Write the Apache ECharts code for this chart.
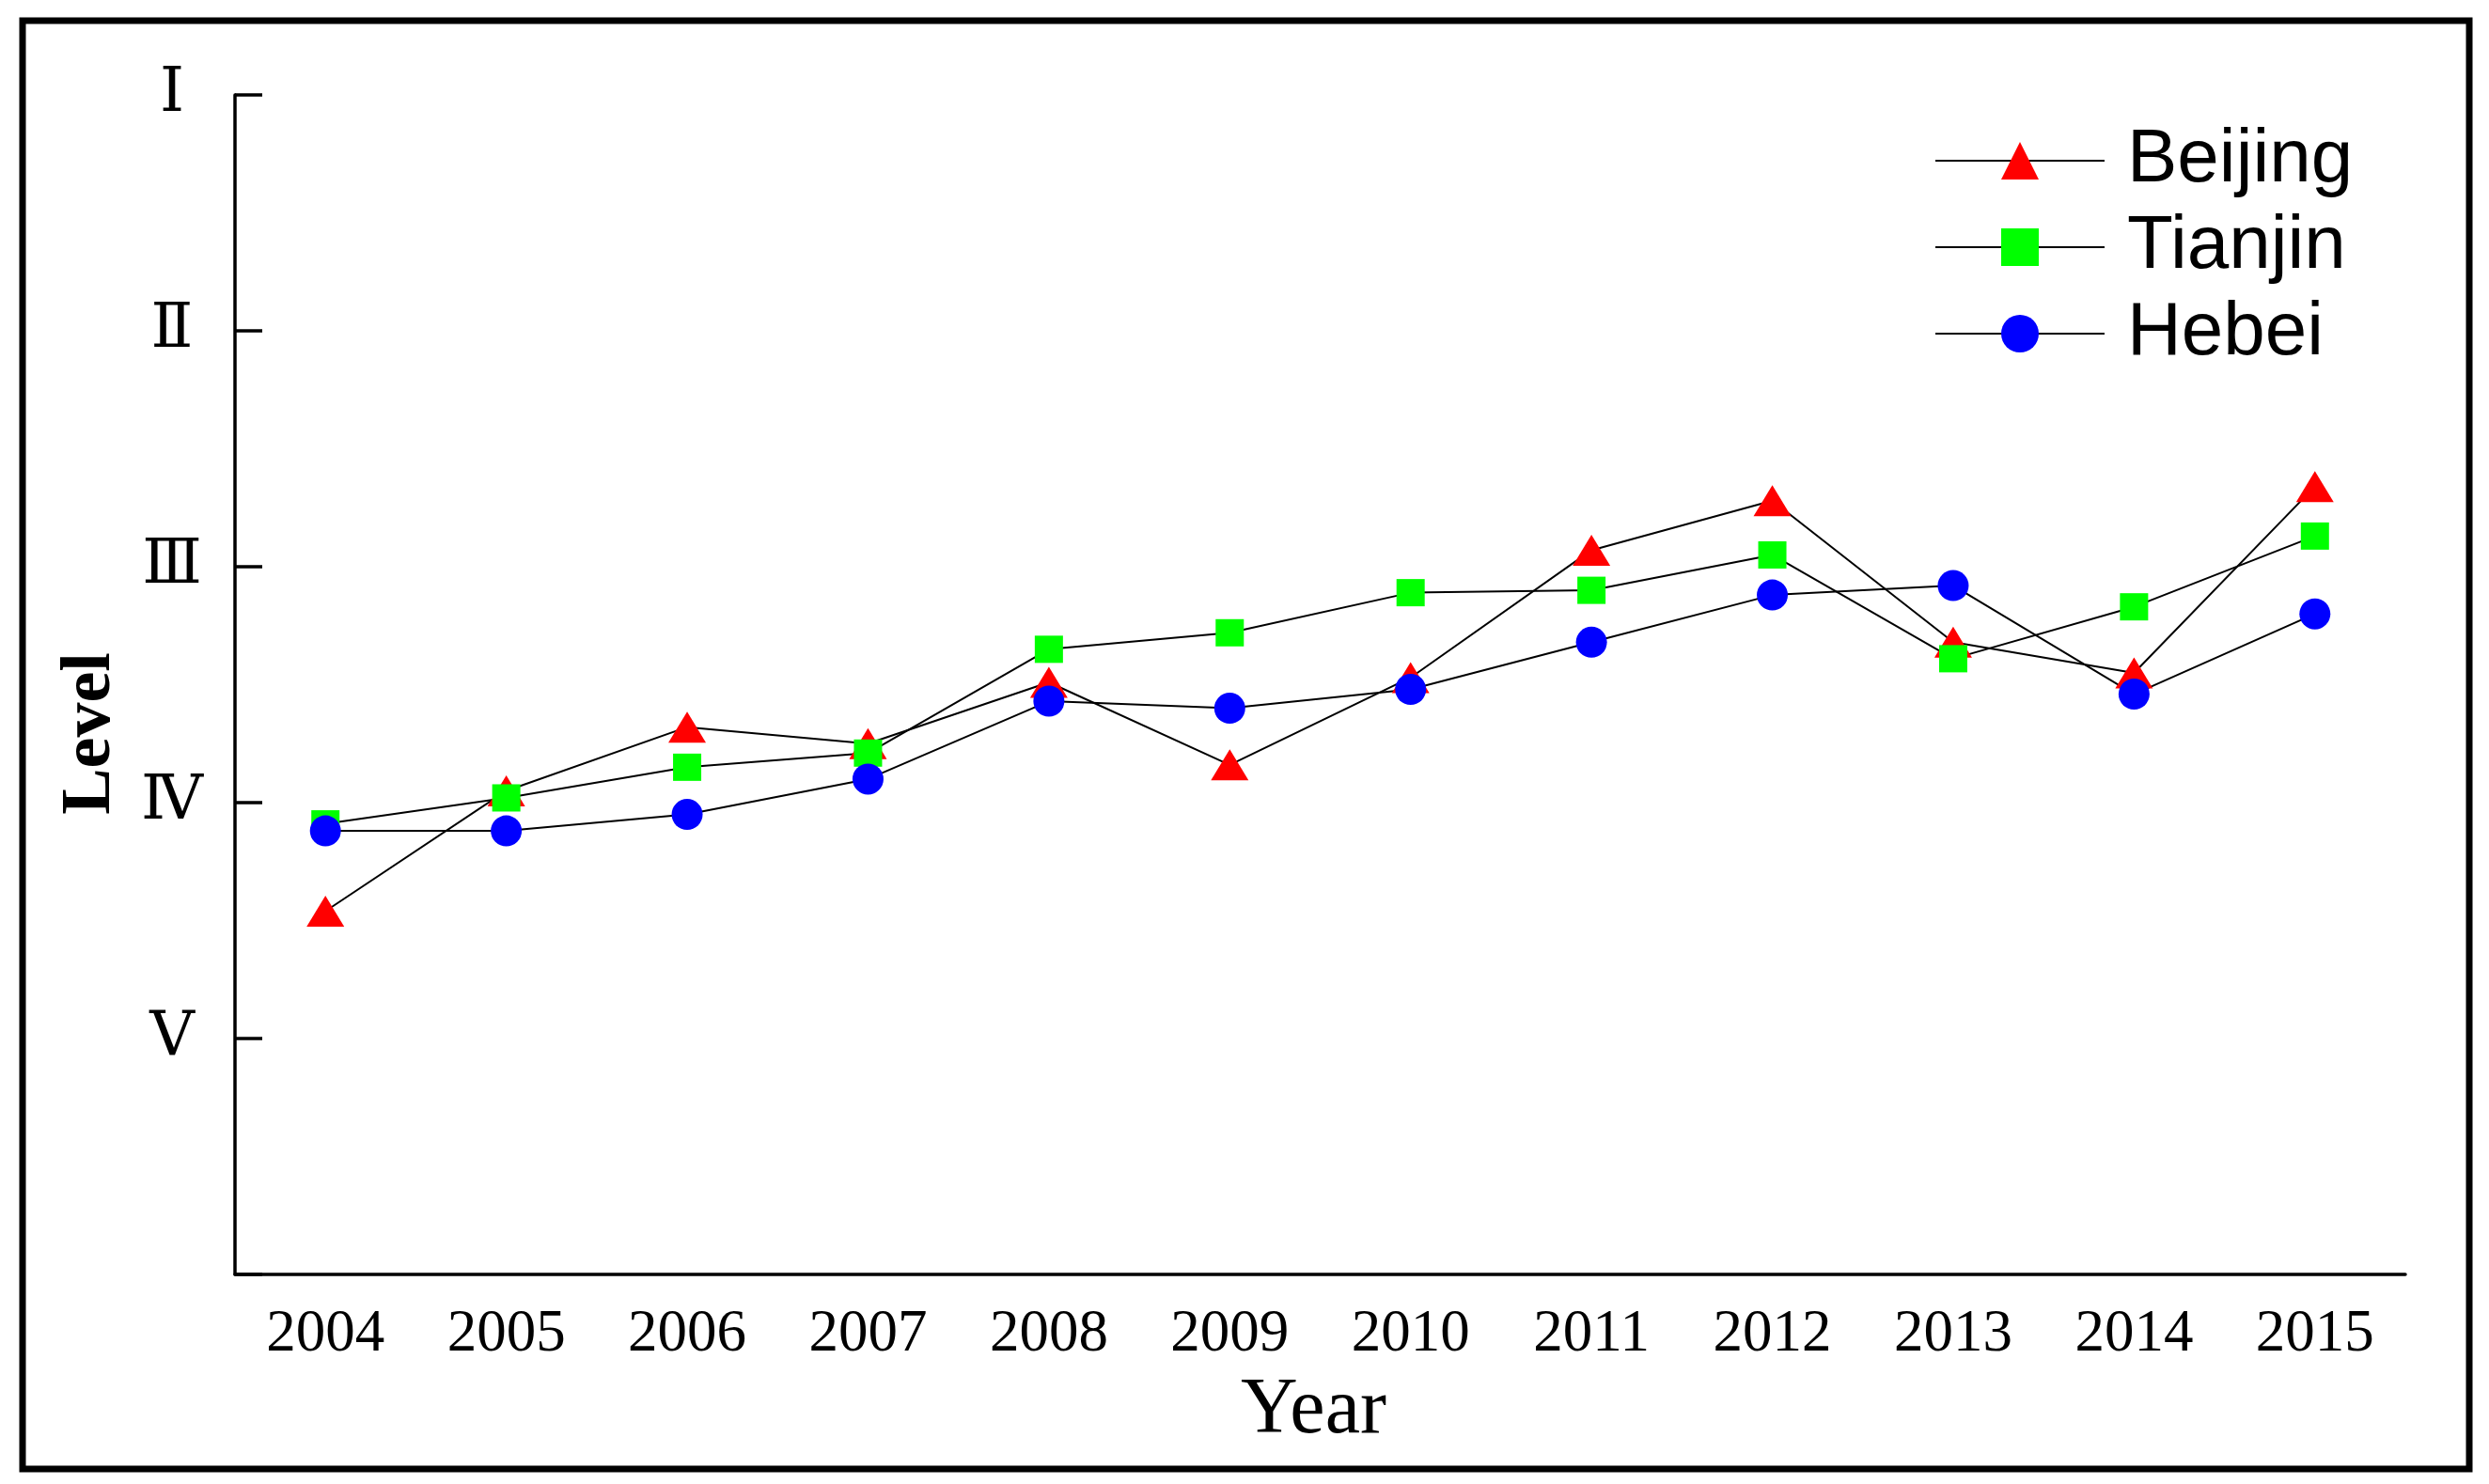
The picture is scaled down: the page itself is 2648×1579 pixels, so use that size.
<!DOCTYPE html>
<html>
<head>
<meta charset="utf-8">
<script src="https://cdn.jsdelivr.net/npm/echarts@6/dist/echarts.min.js"></script>
<style>
html, body { margin: 0; padding: 0; background: #fff; }
#chart { width: 2648px; height: 1579px; }
</style>
</head>
<body>
<div id="chart"></div>
<script>
const years = ['2004','2005','2006','2007','2008','2009','2010','2011','2012','2013','2014','2015'];
const levelLabels = ['Ⅰ','Ⅱ','Ⅲ','Ⅳ','Ⅴ'];
const beijing = [4.46, 3.95, 3.68, 3.75, 3.49, 3.84, 3.47, 2.93, 2.72, 3.32, 3.45, 2.66];
const tianjin = [4.09, 3.98, 3.85, 3.79, 3.35, 3.28, 3.11, 3.10, 2.95, 3.39, 3.17, 2.87];
const hebei   = [4.12, 4.12, 4.05, 3.90, 3.57, 3.60, 3.52, 3.32, 3.12, 3.08, 3.54, 3.20];

const chart = echarts.init(document.getElementById('chart'));

function mkSeries(name, data, symbol, size, color) {
  return {
    name: name,
    type: 'line',
    data: data,
    symbol: symbol,
    symbolSize: size,
    showAllSymbol: true,
    lineStyle: { color: '#000', width: 2 },
    itemStyle: { color: color, borderWidth: 0 },
    emphasis: { disabled: true }
  };
}

chart.setOption({
  animation: false,
  backgroundColor: '#fff',
  graphic: [{
    type: 'rect',
    shape: { x: 24, y: 22, width: 2603, height: 1541 },
    style: { fill: 'none', stroke: '#000', lineWidth: 7 },
    silent: true
  }],
  grid: { left: 250, top: 101, right: 89, bottom: 223, containLabel: false },
  legend: {
    orient: 'vertical',
    left: 2053,
    top: 126,
    itemWidth: 180,
    itemHeight: 50,
    itemGap: 12,
    textStyle: { fontFamily: 'Liberation Sans, Arial, sans-serif', fontSize: 80, color: '#000', padding: [0, 0, 0, 19] },
    data: ['Beijing', 'Tianjin', 'Hebei']
  },
  xAxis: {
    type: 'category',
    data: years,
    boundaryGap: true,
    name: 'Year',
    nameLocation: 'middle',
    nameGap: 104,
    nameTextStyle: { fontFamily: 'Liberation Serif, Times New Roman, serif', fontSize: 84, color: '#000', padding: [0, 14, 0, 0] },
    axisLine: { lineStyle: { color: '#000', width: 3.5 } },
    axisTick: { inside: true, length: 25, alignWithLabel: true, lineStyle: { color: '#000', width: 3.5 } },
    axisLabel: { fontFamily: 'Liberation Serif, Times New Roman, serif', fontSize: 63, color: '#000', margin: 33 },
    splitLine: { show: false }
  },
  yAxis: {
    type: 'value',
    min: 1,
    max: 6,
    interval: 1,
    inverse: true,
    name: 'Level',
    nameLocation: 'middle',
    nameGap: 116,
    nameRotate: 90,
    nameTextStyle: { fontFamily: 'Liberation Serif, Times New Roman, serif', fontSize: 74, fontWeight: 'bold', color: '#000', padding: [0, 104, 0, 0] },
    axisLine: { show: true, lineStyle: { color: '#000', width: 3.5 } },
    axisTick: { show: true, inside: true, length: 29, lineStyle: { color: '#000', width: 3.5 } },
    axisLabel: {
      fontFamily: 'Liberation Serif, DejaVu Serif, Times New Roman, serif',
      fontSize: 66,
      color: '#000',
      align: 'center',
      margin: 67,
      formatter: function (v) { return levelLabels[v - 1] || ''; }
    },
    splitLine: { show: false }
  },
  series: [
    mkSeries('Beijing', beijing, 'triangle', [40, 33], '#ff0000'),
    mkSeries('Tianjin', tianjin, 'rect', [30, 29], '#00ff00'),
    mkSeries('Hebei', hebei, 'circle', 33, '#0000ff')
  ]
});
</script>
</body>
</html>
